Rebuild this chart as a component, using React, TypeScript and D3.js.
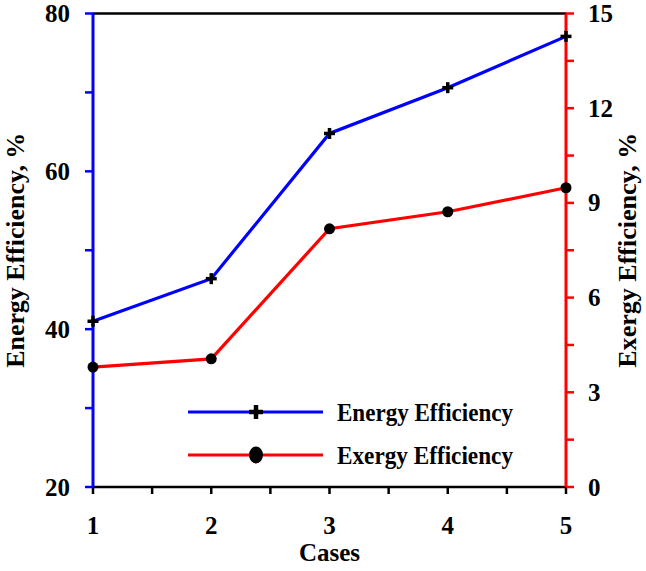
import * as d3 from 'd3'

const cases = [1, 2, 3, 4, 5]
const energyEff = [41.0, 46.4, 64.8, 70.6, 77.1]
const exergyEff = [3.8, 4.06, 8.18, 8.72, 9.48]
const leftTicks = [20, 40, 60, 80]
const leftMinor = [30, 50, 70]
const rightTicks = [0, 3, 6, 9, 12, 15]
const rightMinor = [1.5, 4.5, 7.5, 10.5, 13.5]
const xMinor = [1.5, 2.5, 3.5, 4.5]
const legendItems = ['Energy Efficiency', 'Exergy Efficiency']

const W = 646
const H = 571
const m = { left: 93, right: 80, top: 13.5, bottom: 84 }
const FONT = '"Liberation Serif", "Times New Roman", serif'

export default function App() {
  const x = d3.scaleLinear().domain([1, 5]).range([m.left, W - m.right])
  const yL = d3.scaleLinear().domain([20, 80]).range([H - m.bottom, m.top])
  const yR = d3.scaleLinear().domain([0, 15]).range([H - m.bottom, m.top])
  const x0 = x(1), x1 = x(5), yb = yL(20), yt = yL(80)

  const energyLine = d3.line<number>().x((_, i) => x(cases[i])).y(d => yL(d))(energyEff) ?? ''
  const exergyLine = d3.line<number>().x((_, i) => x(cases[i])).y(d => yR(d))(exergyEff) ?? ''

  const plus = (cx: number, cy: number, s: number, sw: number, key: string) => (
    <g key={key} stroke="#000" strokeWidth={sw}>
      <line x1={cx - s} x2={cx + s} y1={cy} y2={cy} />
      <line x1={cx} x2={cx} y1={cy - s} y2={cy + s} />
    </g>
  )

  const legX0 = 188, legX1 = 323, legY = [412, 455]

  return (
    <svg width={W} height={H} style={{ position: 'absolute', left: 0, top: 0, background: '#fff' }}
      fontFamily={FONT} fontWeight="bold">
      {/* top border */}
      <line x1={x0} x2={x1} y1={yt} y2={yt} stroke="#000" strokeWidth={2.5} />
      {/* bottom axis */}
      <line x1={x0} x2={x1} y1={yb} y2={yb} stroke="#000" strokeWidth={2.5} />
      {[...cases, ...xMinor].map(v => (
        <line key={'xt' + v} x1={x(v)} x2={x(v)} y1={yb} y2={yb + 7} stroke="#000" strokeWidth={2.5} />
      ))}
      {cases.map(v => (
        <text key={'xl' + v} x={x(v)} y={534} textAnchor="middle" fontSize={25}>{v}</text>
      ))}
      <text x={(x0 + x1) / 2} y={561} textAnchor="middle" fontSize={25}>Cases</text>

      {/* left axis */}
      <line x1={x0} x2={x0} y1={yt} y2={yb} stroke="#0000ff" strokeWidth={3} />
      {[...leftTicks, ...leftMinor].map(v => (
        <line key={'lt' + v} x1={x0 - 8} x2={x0} y1={yL(v)} y2={yL(v)} stroke="#0000ff" strokeWidth={2.5} />
      ))}
      {leftTicks.map(v => (
        <text key={'ll' + v} x={70} y={yL(v) + 8.5} textAnchor="end" fontSize={25}>{v}</text>
      ))}
      <text transform={`translate(24,${(yt + yb) / 2}) rotate(-90)`} textAnchor="middle" fontSize={26}
        textLength={235} lengthAdjust="spacingAndGlyphs">
        Energy Efficiency, %
      </text>

      {/* right axis */}
      <line x1={x1} x2={x1} y1={yt} y2={yb} stroke="#ff0000" strokeWidth={3} />
      {[...rightTicks, ...rightMinor].map(v => (
        <line key={'rt' + v} x1={x1} x2={x1 + 8} y1={yR(v)} y2={yR(v)} stroke="#ff0000" strokeWidth={2.5} />
      ))}
      {rightTicks.map(v => (
        <text key={'rl' + v} x={588} y={yR(v) + 8.5} textAnchor="start" fontSize={25}>{v}</text>
      ))}
      <text transform={`translate(636,${(yt + yb) / 2}) rotate(-90)`} textAnchor="middle" fontSize={26}
        textLength={235} lengthAdjust="spacingAndGlyphs">
        Exergy Efficiency, %
      </text>

      {/* series */}
      <path d={energyLine} fill="none" stroke="#0000ff" strokeWidth={3.2} />
      <path d={exergyLine} fill="none" stroke="#ff0000" strokeWidth={3.2} />
      {energyEff.map((v, i) => plus(x(cases[i]), yL(v), 5.5, 3.5, 'ep' + i))}
      {exergyEff.map((v, i) => (
        <circle key={'xp' + i} cx={x(cases[i])} cy={yR(v)} r={5.5} fill="#000" />
      ))}

      {/* legend */}
      <line x1={legX0} x2={legX1} y1={legY[0]} y2={legY[0]} stroke="#0000ff" strokeWidth={3.2} />
      {plus(256, legY[0], 7, 4.5, 'lp')}
      <line x1={legX0} x2={legX1} y1={legY[1]} y2={legY[1]} stroke="#ff0000" strokeWidth={3.2} />
      <ellipse cx={256} cy={legY[1]} rx={7} ry={8.5} fill="#000" />
      {legendItems.map((t, i) => (
        <text key={t} x={337} y={legY[i] + 9} fontSize={26} textLength={176} lengthAdjust="spacingAndGlyphs">{t}</text>
      ))}
    </svg>
  )
}
